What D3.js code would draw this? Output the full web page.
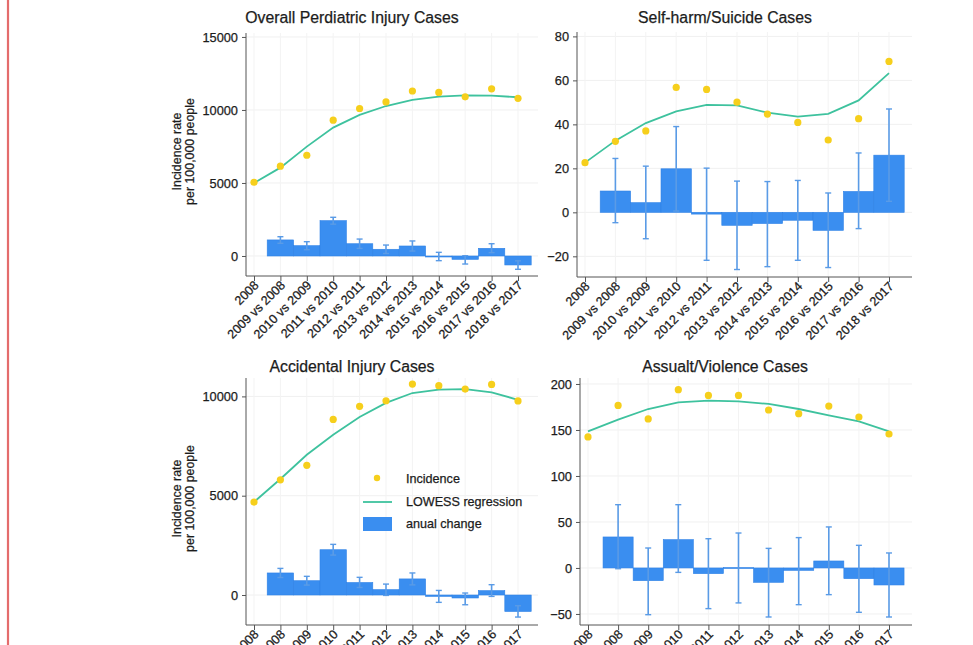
<!DOCTYPE html>
<html>
<head>
<meta charset="utf-8">
<script src="https://cdn.jsdelivr.net/npm/d3@7"></script>
<style>
  html, body { margin: 0; padding: 0; background: #fff; }
  svg { display: block; font-family: "Liberation Sans", Arial, Helvetica, sans-serif; }
  svg text { stroke: #1c1c1c; stroke-width: 0.25px; }
</style>
</head>
<body>
<svg id="chart" width="973" height="645"></svg>
<script>
;(function (d3) {
  var categories = ['2008', '2009 vs 2008', '2010 vs 2009', '2011 vs 2010', '2012 vs 2011',
    '2013 vs 2012', '2014 vs 2013', '2015 vs 2014', '2016 vs 2015', '2017 vs 2016', '2018 vs 2017']

  // overall paediatric injury
  var overallIncidence = [5050, 6150, 6900, 9300, 10100, 10550, 11300, 11200, 10900, 11450, 10800]
  var overallLowess = [5000, 6050, 7490, 8790, 9660, 10270, 10690, 10910, 11000, 10980, 10870]
  var overallChange = [null, 1100, 705, 2420, 840, 460, 685, -40, -230, 525, -615]
  var overallLow = [null, 870, 430, 2180, 520, 170, 340, -320, -550, 230, -910]
  var overallHigh = [null, 1320, 980, 2650, 1160, 750, 1030, 250, 20, 840, -330]
  var overallTicks = [0, 5000, 10000, 15000]

  // self-harm / suicide
  var selfIncidence = [22.6, 32.3, 37, 56.8, 55.9, 50.1, 44.7, 40.9, 32.9, 42.6, 68.6]
  var selfLowess = [22.6, 32.6, 40.6, 45.9, 48.9, 48.6, 45.3, 43.5, 44.8, 50.9, 63.3]
  var selfChange = [null, 9.7, 4.4, 19.8, -0.8, -5.9, -5.1, -3.6, -8.2, 9.5, 26]
  var selfLow = [null, -4.7, -12, 0.6, -21.8, -26, -24.7, -21.8, -25.1, -7.4, 5]
  var selfHigh = [null, 24.5, 21, 39, 20.1, 14.2, 14, 14.5, 8.8, 27, 47]
  var selfTicks = [-20, 0, 20, 40, 60, 80]

  // accidental injury
  var accIncidence = [4680, 5800, 6530, 8840, 9500, 9780, 10620, 10540, 10370, 10600, 9770]
  var accLowess = [4680, 5840, 7060, 8070, 8960, 9670, 10170, 10340, 10370, 10200, 9830]
  var accChange = [null, 1110, 720, 2280, 630, 270, 810, -70, -150, 220, -830]
  var accLow = [null, 880, 500, 2010, 380, -20, 510, -370, -490, -70, -1110]
  var accHigh = [null, 1340, 940, 2550, 890, 550, 1110, 230, 100, 520, -540]
  var accTicks = [0, 5000, 10000]

  // assault / violence
  var assIncidence = [142.4, 176.7, 162, 193.8, 187.6, 187.6, 171.7, 167.7, 176, 164.1, 145.6]
  var assLowess = [148.5, 161.2, 172.8, 180, 181.8, 181.1, 178.3, 172.8, 165.9, 159.4, 148.5]
  var assChange = [null, 33.7, -13.8, 30.8, -6.2, 0.5, -15.6, -2.6, 7.6, -11.6, -18.5]
  var assLow = [null, -0.8, -50.8, -4.8, -44.2, -38, -53.3, -39.9, -29, -48.2, -53.3]
  var assHigh = [null, 68.8, 21.7, 68.8, 31.8, 38, 21.3, 33, 44.6, 24.6, 16.3]
  var assTicks = [-50, 0, 50, 100, 150, 200]

  var dotColor = '#f6cf1c'
  var lineColor = '#3ec29e'
  var barColor = '#3a8ef0'
  var errColor = '#5a9be6'
  var textColor = '#1c1c1c'

  var panels = [
    {title: 'Overall Perdiatric Injury Cases', inc: overallIncidence, low: overallLowess, chg: overallChange,
      lo: overallLow, hi: overallHigh, ticks: overallTicks, dom: [-1370, 15270],
      axisX: 246, right: 538, top: 33, bottom: 276, x0: 254, x1: 518,
      titleX: 352, titleY: 23, ytitle: true},
    {title: 'Self-harm/Suicide Cases', inc: selfIncidence, low: selfLowess, chg: selfChange,
      lo: selfLow, hi: selfHigh, ticks: selfTicks, dom: [-29.4, 82],
      axisX: 577, right: 912, top: 32, bottom: 277, x0: 585, x1: 889,
      titleX: 725, titleY: 23},
    {title: 'Accidental Injury Cases', inc: accIncidence, low: accLowess, chg: accChange,
      lo: accLow, hi: accHigh, ticks: accTicks, dom: [-1510, 10926],
      axisX: 246, right: 538, top: 378, bottom: 625, x0: 254, x1: 518,
      titleX: 352, titleY: 372, ytitle: true, legend: true},
    {title: 'Assualt/Violence Cases', inc: assIncidence, low: assLowess, chg: assChange,
      lo: assLow, hi: assHigh, ticks: assTicks, dom: [-62, 206.5],
      axisX: 580, right: 912, top: 378, bottom: 625, x0: 588, x1: 889,
      titleX: 725, titleY: 372}
  ]

  var svg = d3.select('#chart')

  // red margin line at far left
  svg.append('line')
    .attr('x1', 8).attr('x2', 8).attr('y1', 0).attr('y2', 645)
    .attr('stroke', '#e46c6c').attr('stroke-width', 2.2)

  panels.forEach(function (p) {
    var x = d3.scalePoint().domain(categories).range([p.x0, p.x1])
    var y = d3.scaleLinear().domain(p.dom).range([p.bottom, p.top])
    var step = x.step()
    var g = svg.append('g')

    // faint grid
    g.selectAll('line.hgrid').data(p.ticks).enter().append('line')
      .attr('x1', p.axisX).attr('x2', p.right)
      .attr('y1', function (d) { return y(d) }).attr('y2', function (d) { return y(d) })
      .attr('stroke', '#f0f0f0').attr('stroke-width', 1)
    g.selectAll('line.vgrid').data(categories).enter().append('line')
      .attr('x1', function (d) { return x(d) }).attr('x2', function (d) { return x(d) })
      .attr('y1', p.top).attr('y2', p.bottom)
      .attr('stroke', '#f3f3f3').attr('stroke-width', 1)

    // annual change bars
    var rows = categories.map(function (c, i) {
      return {c: c, v: p.chg[i], lo: p.lo[i], hi: p.hi[i]}
    }).filter(function (d) { return d.v !== null })

    g.selectAll('rect.bar').data(rows).enter().append('rect')
      .attr('x', function (d) { return x(d.c) - step / 2 })
      .attr('width', step)
      .attr('y', function (d) { return Math.min(y(d.v), y(0)) })
      .attr('height', function (d) { return Math.max(1, Math.abs(y(d.v) - y(0))) })
      .attr('fill', barColor).attr('stroke', '#2f82e6').attr('stroke-width', 0.6)

    // confidence intervals
    var eb = g.selectAll('g.err').data(rows).enter().append('g')
    eb.append('line')
      .attr('x1', function (d) { return x(d.c) }).attr('x2', function (d) { return x(d.c) })
      .attr('y1', function (d) { return y(d.lo) }).attr('y2', function (d) { return y(d.hi) })
      .attr('stroke', errColor).attr('stroke-width', 1.6)
    ;['lo', 'hi'].forEach(function (k) {
      eb.append('line')
        .attr('x1', function (d) { return x(d.c) - 3 }).attr('x2', function (d) { return x(d.c) + 3 })
        .attr('y1', function (d) { return y(d[k]) }).attr('y2', function (d) { return y(d[k]) })
        .attr('stroke', errColor).attr('stroke-width', 1.4)
    })

    // lowess
    var line = d3.line()
      .x(function (d, i) { return x(categories[i]) })
      .y(function (d) { return y(d) })
    g.append('path').datum(p.low)
      .attr('d', line).attr('fill', 'none')
      .attr('stroke', lineColor).attr('stroke-width', 1.8)

    // incidence points
    g.selectAll('circle.inc').data(p.inc).enter().append('circle')
      .attr('cx', function (d, i) { return x(categories[i]) })
      .attr('cy', function (d) { return y(d) })
      .attr('r', 3.6).attr('fill', dotColor)

    // y axis
    var yAxis = g.append('g')
      .attr('transform', 'translate(' + p.axisX + ',0)')
      .call(d3.axisLeft(y).tickValues(p.ticks).tickSize(4).tickPadding(4).tickFormat(d3.format('d')))
    yAxis.select('.domain').attr('d', 'M0,' + p.top + 'V' + p.bottom).attr('stroke', '#555')
    yAxis.selectAll('.tick line').attr('stroke', '#555')
    yAxis.selectAll('.tick text').attr('font-size', 12.8).attr('fill', textColor)
      .attr('font-family', '"Liberation Sans", Arial, sans-serif')

    // x axis
    var xAxis = g.append('g')
      .attr('transform', 'translate(0,' + p.bottom + ')')
      .call(d3.axisBottom(x).tickSize(5).tickSizeOuter(0))
    xAxis.select('.domain').attr('d', 'M' + p.axisX + ',0H' + p.right).attr('stroke', '#555')
    xAxis.selectAll('.tick line').attr('stroke', '#555')
    xAxis.selectAll('.tick text')
      .attr('font-size', 12.6).attr('fill', textColor)
      .attr('font-family', '"Liberation Sans", Arial, sans-serif')
      .attr('text-anchor', 'end')
      .attr('dy', null).attr('y', null)
      .attr('transform', 'translate(5,10) rotate(-45)')

    // title
    g.append('text')
      .attr('x', p.titleX).attr('y', p.titleY)
      .attr('text-anchor', 'middle').attr('font-size', 15.8).attr('fill', textColor)
      .text(p.title)

    if (p.ytitle) {
      var cy = (p.top + p.bottom) / 2 - 3
      var yt = g.append('text')
        .attr('transform', 'translate(181,' + cy + ') rotate(-90)')
        .attr('text-anchor', 'middle').attr('font-size', 12.4).attr('fill', textColor)
      yt.append('tspan').attr('x', 0).attr('dy', 0).text('Incidence rate')
      yt.append('tspan').attr('x', 0).attr('dy', 12.5).text('per 100,000 people')
    }

    if (p.legend) {
      var lg = g.append('g').attr('font-size', 12.6).attr('fill', textColor)
      lg.append('circle').attr('cx', 377).attr('cy', 478).attr('r', 3.2).attr('fill', dotColor)
      lg.append('text').attr('x', 406).attr('y', 483).text('Incidence')
      lg.append('line').attr('x1', 363).attr('x2', 392).attr('y1', 502).attr('y2', 502)
        .attr('stroke', lineColor).attr('stroke-width', 1.8)
      lg.append('text').attr('x', 406).attr('y', 506).text('LOWESS regression')
      lg.append('rect').attr('x', 363).attr('y', 517).attr('width', 29).attr('height', 14)
        .attr('fill', barColor)
      lg.append('text').attr('x', 406).attr('y', 528).text('anual change')
    }
  })
})(window.d3)
</script>
</body>
</html>
